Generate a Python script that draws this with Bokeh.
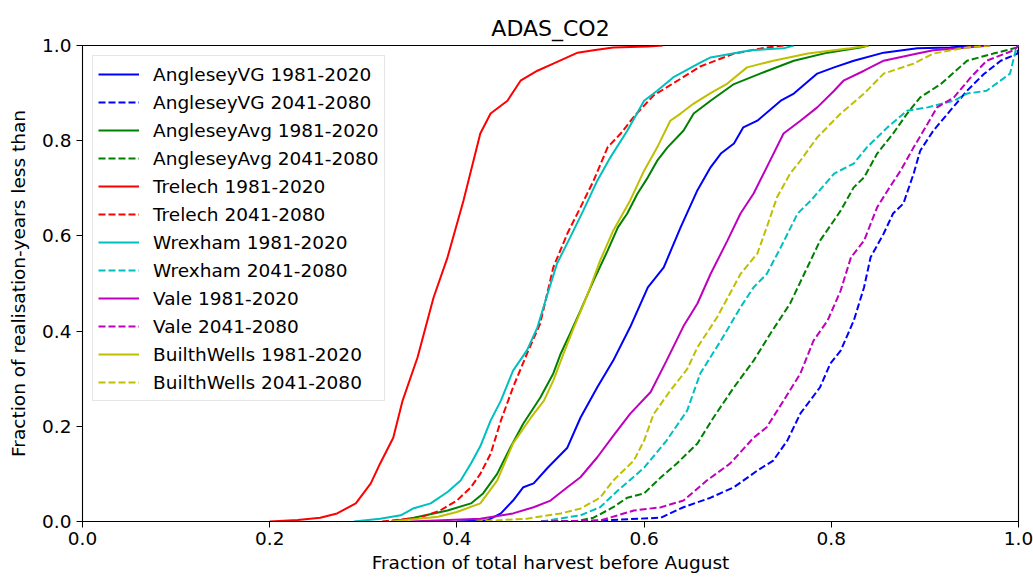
from bokeh.plotting import figure
from bokeh.models import Range1d, FixedTicker, PrintfTickFormatter, Legend, LegendItem
from bokeh.embed import file_html
from bokeh.resources import INLINE

# ---------------- data ----------------
ang_vg_hist_x = [0.400,0.432,0.447,0.460,0.471,0.482,0.497,0.518,0.532,0.550,0.567,0.585,0.604,0.621,0.639,0.657,0.671,0.682,0.696,0.706,0.721,0.746,0.760,0.785,0.803,0.824,0.856,0.892,0.927,0.950]
ang_vg_hist_y = [0.000,0.002,0.017,0.044,0.072,0.080,0.113,0.155,0.218,0.282,0.338,0.408,0.492,0.534,0.618,0.696,0.744,0.773,0.794,0.828,0.842,0.884,0.899,0.941,0.954,0.968,0.985,0.994,0.996,1.000]

ang_vg_fut_x = [0.490,0.553,0.618,0.642,0.671,0.696,0.721,0.738,0.753,0.767,0.788,0.799,0.810,0.824,0.835,0.842,0.856,0.866,0.877,0.888,0.895,0.909,0.927,0.945,0.963,0.981,0.999,1.000]
ang_vg_fut_y = [0.000,0.002,0.008,0.030,0.050,0.072,0.107,0.128,0.170,0.227,0.282,0.332,0.359,0.422,0.492,0.555,0.605,0.647,0.668,0.731,0.779,0.821,0.863,0.905,0.940,0.968,0.983,1.000]

ang_avg_hist_x = [0.330,0.354,0.390,0.415,0.428,0.443,0.457,0.471,0.489,0.503,0.511,0.521,0.532,0.546,0.561,0.572,0.582,0.593,0.604,0.614,0.625,0.642,0.653,0.671,0.696,0.724,0.760,0.796,0.831,0.840]
ang_avg_hist_y = [0.000,0.008,0.023,0.038,0.059,0.100,0.155,0.206,0.260,0.311,0.353,0.395,0.443,0.506,0.569,0.618,0.647,0.689,0.723,0.758,0.786,0.821,0.857,0.884,0.919,0.941,0.968,0.985,0.996,1.000]

ang_avg_fut_x = [0.490,0.525,0.546,0.567,0.582,0.600,0.618,0.635,0.657,0.674,0.696,0.717,0.735,0.756,0.771,0.788,0.810,0.824,0.835,0.849,0.866,0.881,0.895,0.917,0.945,0.973,0.999,1.000]
ang_avg_fut_y = [0.000,0.000,0.008,0.030,0.050,0.059,0.093,0.122,0.164,0.218,0.282,0.338,0.395,0.458,0.520,0.590,0.653,0.702,0.723,0.773,0.815,0.857,0.891,0.919,0.968,0.983,0.996,1.000]

tre_hist_x = [0.200,0.230,0.254,0.272,0.292,0.308,0.318,0.332,0.342,0.358,0.375,0.390,0.407,0.425,0.436,0.454,0.468,0.486,0.503,0.529,0.546,0.567,0.604,0.620]
tre_hist_y = [0.000,0.003,0.008,0.017,0.038,0.080,0.122,0.176,0.254,0.345,0.470,0.555,0.674,0.815,0.857,0.884,0.926,0.947,0.962,0.985,0.990,0.996,0.998,1.000]

tre_fut_x = [0.320,0.360,0.382,0.400,0.415,0.425,0.436,0.447,0.460,0.475,0.489,0.503,0.518,0.532,0.546,0.561,0.575,0.589,0.610,0.639,0.660,0.696,0.731,0.750]
tre_fut_y = [0.000,0.008,0.023,0.044,0.072,0.100,0.142,0.212,0.282,0.353,0.416,0.534,0.605,0.660,0.716,0.786,0.815,0.850,0.895,0.930,0.956,0.983,0.996,1.000]

wre_hist_x = [0.290,0.318,0.340,0.354,0.372,0.390,0.404,0.415,0.425,0.436,0.447,0.460,0.475,0.486,0.497,0.507,0.521,0.535,0.550,0.564,0.582,0.600,0.614,0.631,0.660,0.671,0.714,0.749,0.760]
wre_hist_y = [0.000,0.006,0.013,0.028,0.038,0.062,0.086,0.122,0.158,0.212,0.254,0.317,0.360,0.408,0.479,0.542,0.597,0.653,0.716,0.765,0.821,0.884,0.905,0.933,0.964,0.975,0.990,0.994,1.000]

wre_fut_x = [0.490,0.532,0.553,0.572,0.600,0.624,0.646,0.660,0.682,0.703,0.717,0.731,0.746,0.764,0.778,0.803,0.824,0.838,0.860,0.881,0.903,0.931,0.945,0.966,0.991,0.997,1.000]
wre_fut_y = [0.000,0.013,0.030,0.065,0.113,0.170,0.233,0.311,0.380,0.450,0.492,0.520,0.576,0.647,0.674,0.731,0.752,0.786,0.828,0.863,0.870,0.884,0.899,0.905,0.941,0.990,1.000]

vale_hist_x = [0.350,0.425,0.460,0.482,0.500,0.518,0.532,0.550,0.567,0.585,0.607,0.624,0.642,0.657,0.671,0.689,0.703,0.717,0.731,0.749,0.767,0.785,0.803,0.813,0.835,0.856,0.892,0.909,0.945,0.970]
vale_hist_y = [0.000,0.006,0.017,0.030,0.044,0.072,0.093,0.135,0.180,0.226,0.272,0.338,0.410,0.458,0.520,0.590,0.647,0.689,0.744,0.815,0.842,0.870,0.905,0.926,0.947,0.968,0.983,0.990,0.996,1.000]

vale_fut_x = [0.490,0.553,0.589,0.618,0.642,0.667,0.692,0.717,0.731,0.749,0.767,0.781,0.796,0.810,0.821,0.835,0.849,0.860,0.874,0.888,0.903,0.913,0.931,0.949,0.966,0.995,1.000]
vale_fut_y = [0.000,0.002,0.023,0.030,0.044,0.086,0.122,0.176,0.198,0.254,0.311,0.380,0.422,0.485,0.555,0.590,0.660,0.695,0.737,0.786,0.836,0.870,0.891,0.933,0.968,0.990,1.000]

bw_hist_x = [0.330,0.380,0.400,0.425,0.443,0.460,0.479,0.493,0.503,0.514,0.525,0.540,0.553,0.567,0.585,0.600,0.614,0.628,0.639,0.653,0.671,0.689,0.710,0.738,0.775,0.820,0.840]
bw_hist_y = [0.000,0.010,0.020,0.038,0.086,0.164,0.218,0.254,0.296,0.353,0.408,0.479,0.548,0.611,0.674,0.737,0.786,0.842,0.857,0.878,0.900,0.920,0.954,0.968,0.983,0.994,1.000]

bw_fut_x = [0.420,0.475,0.511,0.532,0.553,0.567,0.589,0.600,0.610,0.628,0.646,0.657,0.678,0.703,0.721,0.731,0.742,0.756,0.767,0.785,0.810,0.835,0.856,0.888,0.909,0.945,0.970]
bw_fut_y = [0.000,0.006,0.017,0.027,0.050,0.086,0.128,0.170,0.225,0.275,0.320,0.366,0.429,0.520,0.563,0.618,0.681,0.731,0.758,0.807,0.857,0.899,0.941,0.962,0.983,0.996,1.000]

labels = ["AngleseyVG 1981-2020", "AngleseyVG 2041-2080",
          "AngleseyAvg 1981-2020", "AngleseyAvg 2041-2080",
          "Trelech 1981-2020", "Trelech 2041-2080",
          "Wrexham 1981-2020", "Wrexham 2041-2080",
          "Vale 1981-2020", "Vale 2041-2080",
          "BuilthWells 1981-2020", "BuilthWells 2041-2080"]
xs = [ang_vg_hist_x, ang_vg_fut_x, ang_avg_hist_x, ang_avg_fut_x, tre_hist_x, tre_fut_x,
      wre_hist_x, wre_fut_x, vale_hist_x, vale_fut_x, bw_hist_x, bw_fut_x]
ys = [ang_vg_hist_y, ang_vg_fut_y, ang_avg_hist_y, ang_avg_fut_y, tre_hist_y, tre_fut_y,
      wre_hist_y, wre_fut_y, vale_hist_y, vale_fut_y, bw_hist_y, bw_fut_y]
tick_vals = [0.0, 0.2, 0.4, 0.6, 0.8, 1.0]

# ---------------- styles ----------------
site_colors = ["#0000ff", "#008000", "#ff0000", "#00bfbf", "#bf00bf", "#bfbf00"]
FONT = "DejaVu Sans"
TXT = "18.5px"

p = figure(width=1033, height=579, output_backend="svg", toolbar_location=None,
           x_range=Range1d(0, 1), y_range=Range1d(0, 1),
           min_border_left=82, min_border_right=15, min_border_top=45, min_border_bottom=58,
           title="ADAS_CO2")
p.title.align = "center"
p.title.text_font = FONT
p.title.text_font_size = "22px"
p.title.text_font_style = "normal"
p.title.text_color = "black"

p.xgrid.visible = False
p.ygrid.visible = False
p.outline_line_color = "black"
p.outline_line_alpha = 1.0
p.outline_line_width = 1.1
p.background_fill_color = "white"
p.border_fill_color = "white"

for ax in (p.xaxis[0], p.yaxis[0]):
    ax.ticker = FixedTicker(ticks=tick_vals)
    ax.formatter = PrintfTickFormatter(format="%.1f")
    ax.minor_tick_line_color = None
    ax.major_tick_in = 0
    ax.major_tick_out = 6
    ax.major_tick_line_color = "black"
    ax.axis_line_color = "black"
    ax.major_label_text_font = FONT
    ax.major_label_text_font_size = TXT
    ax.major_label_text_color = "black"
    ax.axis_label_text_font = FONT
    ax.axis_label_text_font_size = TXT
    ax.axis_label_text_font_style = "normal"
    ax.axis_label_text_color = "black"

p.xaxis.axis_label = "Fraction of total harvest before August"
p.yaxis.axis_label = "Fraction of realisation-years less than"
p.xaxis.major_label_standoff = 4
p.xaxis.axis_label_standoff = 4
p.yaxis.major_label_standoff = 5
p.yaxis.axis_label_standoff = 10

items = []
for i, (lab, x, y) in enumerate(zip(labels, xs, ys)):
    col = site_colors[i // 2]
    dash = "solid" if i % 2 == 0 else "7 3"
    r = p.line(x, y, line_color=col, line_width=2, line_dash=dash)
    items.append(LegendItem(label=lab, renderers=[r]))

legend = Legend(items=items, location="top_left")
legend.margin = 10
legend.padding = 5
legend.spacing = 2
legend.glyph_height = 26
legend.label_height = 26
legend.glyph_width = 41
legend.label_standoff = 14
legend.label_text_font = FONT
legend.label_text_font_size = TXT
legend.label_text_color = "black"
legend.border_line_color = "#cccccc"
legend.border_line_width = 1
legend.background_fill_alpha = 0.8
p.add_layout(legend, "center")

open("out.html", "w").write(file_html(p, INLINE))
